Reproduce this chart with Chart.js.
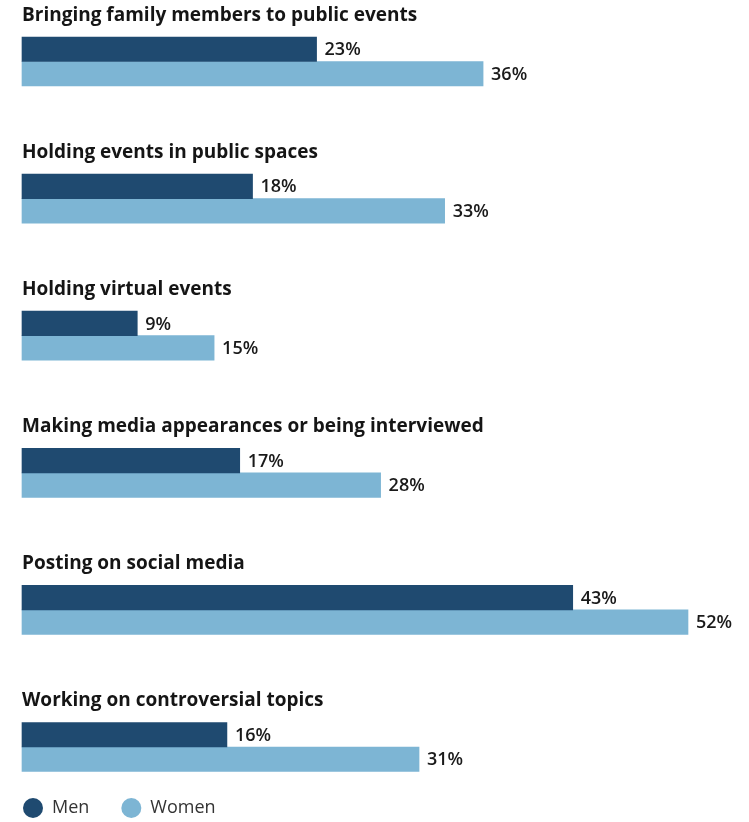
<!DOCTYPE html>
<html>
<head>
<meta charset="utf-8">
<script src="https://cdn.jsdelivr.net/npm/chart.js@4/dist/chart.umd.min.js"></script>
<style>
  html, body { margin: 0; padding: 0; background: #fff; }
  #wrap { width: 749px; height: 822px; position: relative; }
</style>
</head>
<body>
<div id="wrap"><canvas id="c"></canvas></div>
<script>
const categories = [
  "Bringing family members to public events",
  "Holding events in public spaces",
  "Holding virtual events",
  "Making media appearances or being interviewed",
  "Posting on social media",
  "Working on controversial topics"
];
const menValues = [23, 18, 9, 17, 43, 16];
const womenValues = [36, 33, 15, 28, 52, 31];
const seriesNames = ["Men", "Women"];
const seriesColors = ["#1f4a70", "#7db5d4"];

const TITLE_FONT = "bold 19px 'Open Sans', Roboto, sans-serif";
const VALUE_FONT = "600 18px 'Open Sans', Roboto, sans-serif";
const LEGEND_FONT = "18px 'Open Sans', Roboto, sans-serif";

// Group headings above each pair of bars, value labels at the bar ends, and a legend row.
const annotate = {
  id: "annotate",
  afterDatasetsDraw(chart) {
    const ctx = chart.ctx;
    const yScale = chart.scales.y;
    const left = chart.chartArea.left;
    ctx.save();
    ctx.textBaseline = "middle";
    ctx.textAlign = "left";
    ctx.fillStyle = "#151515";
    ctx.font = TITLE_FONT;
    chart.data.labels.forEach((lab, i) => {
      const cy = yScale.getPixelForValue(i);
      ctx.fillText(lab, left, cy - 46);
    });
    ctx.font = VALUE_FONT;
    ctx.fillStyle = "#1a1a1a";
    chart.data.datasets.forEach((ds, di) => {
      chart.getDatasetMeta(di).data.forEach((bar, i) => {
        ctx.fillText(ds.data[i] + "%", bar.x + 8, bar.y + 1);
      });
    });
    // legend
    const ly = chart.height - 14;
    let lx = left + 1;
    ctx.font = LEGEND_FONT;
    chart.data.datasets.forEach((ds) => {
      ctx.beginPath();
      ctx.fillStyle = ds.backgroundColor;
      ctx.arc(lx + 10, ly, 10, 0, Math.PI * 2);
      ctx.fill();
      ctx.fillStyle = "#333";
      ctx.fillText(ds.label, lx + 29, ly);
      lx += 29 + ctx.measureText(ds.label).width + 32;
    });
    ctx.restore();
  }
};

new Chart(document.getElementById("c"), {
  type: "bar",
  data: {
    labels: categories,
    datasets: [
      { label: seriesNames[0], data: menValues, backgroundColor: seriesColors[0] },
      { label: seriesNames[1], data: womenValues, backgroundColor: seriesColors[1] }
    ]
  },
  options: {
    indexAxis: "y",
    responsive: true,
    maintainAspectRatio: false,
    animation: false,
    layout: { padding: { left: 22, right: 61, top: 61.5, bottom: 75 } },
    datasets: { bar: { barThickness: 24.5, clip: false, borderWidth: 0 } },
    scales: {
      x: { display: false, min: 0, max: 52 },
      y: { display: false, offset: false, grid: { display: false } }
    },
    plugins: { legend: { display: false }, tooltip: { enabled: false } }
  },
  plugins: [annotate]
});
</script>
</body>
</html>
